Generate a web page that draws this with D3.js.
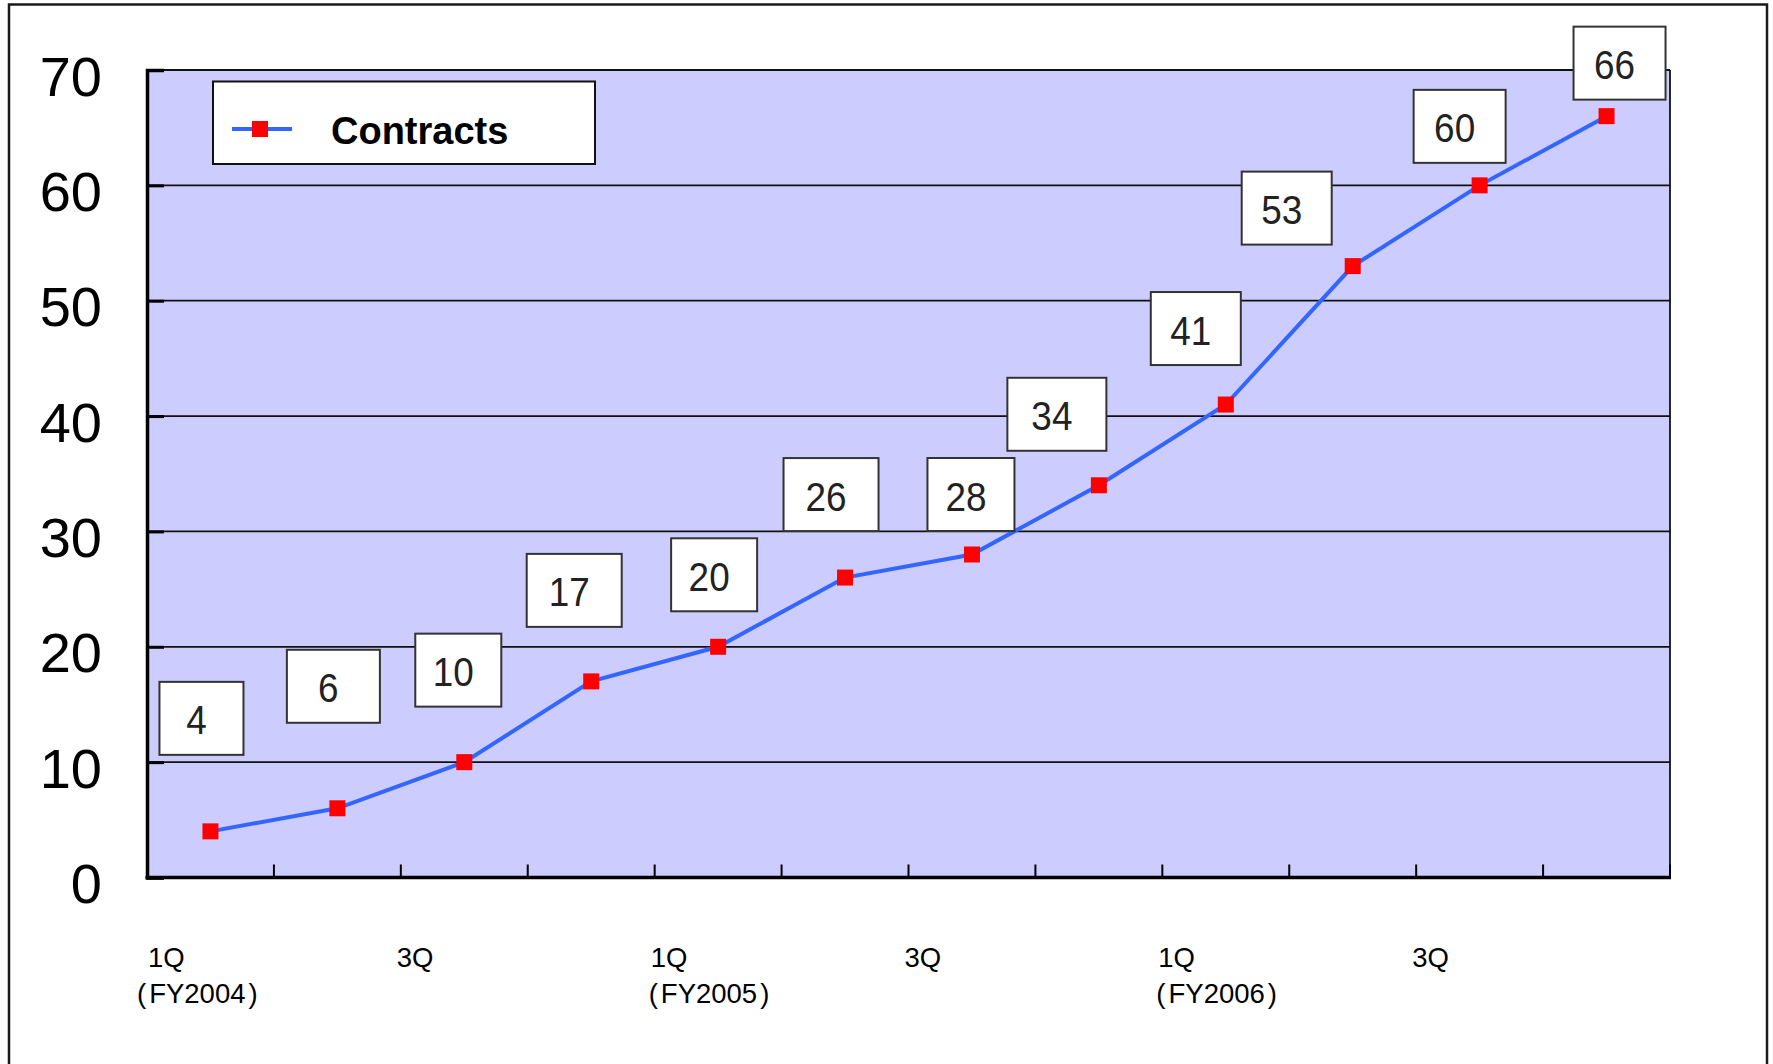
<!DOCTYPE html>
<html><head><meta charset="utf-8">
<script src="https://cdn.jsdelivr.net/npm/d3@7"></script>
<style>body{margin:0;background:#fff;} svg{display:block}</style>
</head><body>
<svg id="c" width="1773" height="1064"></svg>
<script>
// ---- data ----
const categories = ["1Q FY2004","2Q FY2004","3Q FY2004","4Q FY2004",
                    "1Q FY2005","2Q FY2005","3Q FY2005","4Q FY2005",
                    "1Q FY2006","2Q FY2006","3Q FY2006","4Q FY2006"];
const contracts = [4, 6, 10, 17, 20, 26, 28, 34, 41, 53, 60, 66];
const seriesName = "Contracts";
const yTicks = [0, 10, 20, 30, 40, 50, 60, 70];
const xTickCategories = ["1Q FY2004","3Q FY2004","1Q FY2005","3Q FY2005","1Q FY2006","3Q FY2006"];
const xTickQuarter = ["1Q","3Q","1Q","3Q","1Q","3Q"];
const xTickYear = ["FY2004", null, "FY2005", null, "FY2006", null];
// manual placement of the value-label boxes: [dx, dy, box width] in px from each point
const labelNudge = [[-9,-113,84],[-4,-122,93],[-6,-92,86],[-17,-91,95],[-4,-72,86],[-14,-83,95],
                    [-1,-60,87],[-42,-71,99],[-30,-76,90],[-66,-58,90],[-20,-59,92],[13,-53,92]];

// ---- layout ----
const svg = d3.select("#c");
const L = 147, R = 1670, T = 70, B = 877.5;
const x = d3.scaleBand().domain(categories).range([L, R]);
const y = d3.scaleLinear().domain([0, 70]).range([B, T]);
const xc = c => x(c) + x.bandwidth() / 2;

// outer frame
svg.append("rect").attr("x", 9).attr("y", 4.5).attr("width", 1758).attr("height", 1100)
  .attr("fill", "none").attr("stroke", "#1a1a1a").attr("stroke-width", 2.5);

// plot background
svg.append("rect").attr("x", L).attr("y", T).attr("width", R - L).attr("height", B - T)
  .attr("fill", "#ccccff");

// gridlines
svg.append("g").selectAll("line").data(yTicks.filter(v => v > 0)).join("line")
  .attr("x1", L).attr("x2", R).attr("y1", d => y(d)).attr("y2", d => y(d))
  .attr("stroke", "#111").attr("stroke-width", 1.8);
// right border
svg.append("line").attr("x1", R).attr("x2", R).attr("y1", T).attr("y2", B)
  .attr("stroke", "#111").attr("stroke-width", 1.8);

// y axis
const yAxis = svg.append("g").attr("transform", `translate(${L},0)`)
  .call(d3.axisLeft(y).tickValues(yTicks).tickSize(-17).tickPadding(45).tickFormat(d3.format("d")));
yAxis.select(".domain").attr("stroke", "#000").attr("stroke-width", 3.5);
yAxis.selectAll(".tick line").attr("stroke", "#000").attr("stroke-width", 3);
yAxis.selectAll(".tick text").attr("font-family", "'Liberation Sans', Arial, sans-serif")
  .attr("font-size", 56).attr("fill", "#000").attr("dy", "0.45em");

// x axis ticks at category boundaries
const bounds = categories.slice(1).map(c => x(c)).concat([R]);
svg.append("g").selectAll("line").data(bounds).join("line")
  .attr("x1", d => d).attr("x2", d => d).attr("y1", B).attr("y2", B - 13)
  .attr("stroke", "#000").attr("stroke-width", 2);
svg.append("line").attr("x1", L - 1.5).attr("x2", R + 1).attr("y1", B).attr("y2", B)
  .attr("stroke", "#000").attr("stroke-width", 3.5);

// x labels
const xl = svg.append("g").attr("font-family", "'Liberation Sans', Arial, sans-serif")
  .attr("font-size", 27.5).attr("fill", "#000");
xTickCategories.forEach((c, i) => {
  const x0 = x(c) + (i === 0 ? 1 : -4);
  xl.append("text").attr("x", x0).attr("y", 967).text(xTickQuarter[i]);
  if (xTickYear[i]) {
    const t = xl.append("text").attr("x", x0 - (i === 0 ? 11 : 2)).attr("y", 1003);
    t.append("tspan").text("(");
    t.append("tspan").attr("dx", 3).text(xTickYear[i]);
    t.append("tspan").attr("dx", 3).text(")");
  }
});

// line + markers
svg.append("path").datum(contracts)
  .attr("d", d3.line().x((d, i) => xc(categories[i])).y(d => y(d)))
  .attr("fill", "none").attr("stroke", "#3366ff").attr("stroke-width", 4);
svg.append("g").selectAll("rect").data(contracts).join("rect")
  .attr("x", (d, i) => xc(categories[i]) - 8).attr("y", d => y(d) - 8)
  .attr("width", 16).attr("height", 16).attr("fill", "#ff0000");

// value labels
const lab = svg.append("g");
contracts.forEach((v, i) => {
  const [dx, dy, w] = labelNudge[i];
  const cx = xc(categories[i]) + dx;
  const cy = y(v) + dy;
  lab.append("rect").attr("x", cx - w / 2).attr("y", cy - 36.5).attr("width", w).attr("height", 73)
    .attr("fill", "#fff").attr("stroke", "#333").attr("stroke-width", 2);
  lab.append("text").attr("transform", `translate(${cx - 5},${cy + 16}) scale(0.9,1)`)
    .attr("text-anchor", "middle")
    .attr("font-family", "'Liberation Sans', Arial, sans-serif").attr("font-size", 41)
    .attr("fill", "#222").text(v);
});

// legend
const lg = svg.append("g");
lg.append("rect").attr("x", 213).attr("y", 81.5).attr("width", 382).attr("height", 82.5)
  .attr("fill", "#fff").attr("stroke", "#111").attr("stroke-width", 2);
lg.append("line").attr("x1", 232).attr("x2", 292).attr("y1", 129).attr("y2", 129)
  .attr("stroke", "#3366ff").attr("stroke-width", 4);
lg.append("rect").attr("x", 252).attr("y", 121).attr("width", 16).attr("height", 16).attr("fill", "#ff0000");
lg.append("text").attr("x", 331).attr("y", 143.5)
  .attr("font-family", "'Liberation Sans', Arial, sans-serif").attr("font-weight", "bold")
  .attr("font-size", 38).attr("fill", "#000").text(seriesName);
</script>
</body></html>
